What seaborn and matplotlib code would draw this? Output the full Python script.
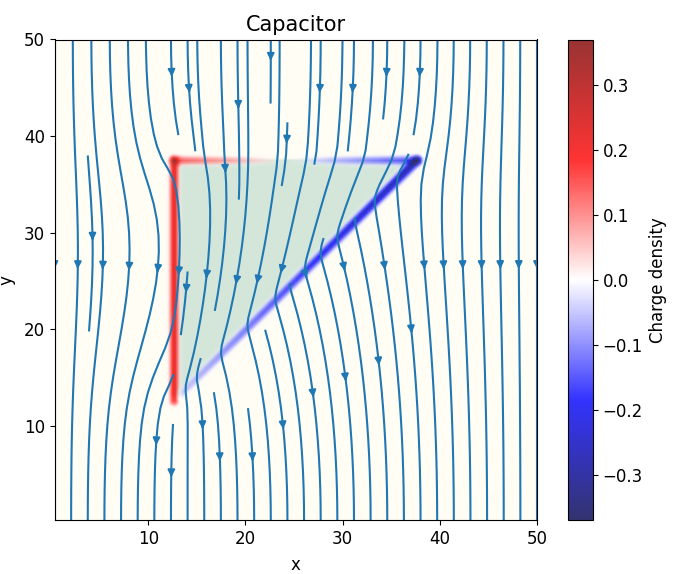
import numpy as np
import matplotlib
matplotlib.use("Agg")
import matplotlib.pyplot as plt
import seaborn as sns
from matplotlib.colors import LinearSegmentedColormap, ListedColormap, Normalize
from matplotlib.cm import ScalarMappable
from matplotlib.path import Path

# ---------------- data ----------------
tri_x = [12.5, 12.5, 37.5]          # triangle (dielectric) vertices
tri_y = [12.5, 37.5, 37.5]
# charged edges: start vertex index, end vertex index, charge density at start / end
edge_start = [0, 1, 2]               # left edge, top edge, hypotenuse
edge_end = [1, 2, 0]
charge_start = [0.22, 0.14, -0.30]
charge_end = [0.22, -0.16, -0.04]
charge_limit = 0.37                  # colour scale limit
plate_voltage = 50.0                 # top plate potential (bottom plate at 0)
eps_inside = 3.5                     # relative permittivity of the triangle
x_range = [0.35, 50.0]
y_range = [0.25, 50.0]

# ---------------- style ----------------
sns.set_style("ticks", {"axes.edgecolor": "black", "xtick.color": "black",
                        "ytick.color": "black", "text.color": "black",
                        "axes.labelcolor": "black"})
plt.rcParams["font.family"] = ["DejaVu Sans"]
plt.rcParams["font.size"] = 12
line_color = sns.color_palette("tab10")[0]

fig = plt.figure(figsize=(6.75, 5.74), dpi=100)
ax = fig.add_axes([54.5 / 675, 54 / 574, 482.5 / 675, 480.5 / 574])
cax = fig.add_axes([568 / 675, 54 / 574, 25 / 675, 480.5 / 574])

verts = np.column_stack([tri_x, tri_y])
tri_path = Path(verts)
extent = [x_range[0], x_range[1], y_range[0], y_range[1]]

# ---------------- background (dielectric region) ----------------
res = 0.25
gx = np.arange(x_range[0], x_range[1] + 1e-9, res)
gy = np.arange(y_range[0], y_range[1] + 1e-9, res)
GX, GY = np.meshgrid(gx, gy)
inside = tri_path.contains_points(np.column_stack([GX.ravel(), GY.ravel()]))
inside = inside.reshape(GX.shape).astype(float)
bg_cmap = LinearSegmentedColormap.from_list("diel", ["#fffdf4", "#d3e6d9"])
ax.imshow(inside, origin="lower", extent=extent, cmap=bg_cmap, vmin=0, vmax=1,
          interpolation="bilinear", aspect="auto", zorder=0)

# ---------------- charge density image ----------------
rho = np.zeros_like(GX)
width = 0.3
for i in range(len(edge_start)):
    p0 = verts[edge_start[i]]
    p1 = verts[edge_end[i]]
    d = p1 - p0
    L2 = d @ d
    t = np.clip(((GX - p0[0]) * d[0] + (GY - p0[1]) * d[1]) / L2, 0, 1)
    dist2 = (GX - (p0[0] + t * d[0])) ** 2 + (GY - (p0[1] + t * d[1])) ** 2
    rho += (charge_start[i] + t * (charge_end[i] - charge_start[i])) * np.exp(-dist2 / (2 * width ** 2))

norm = Normalize(vmin=-charge_limit, vmax=charge_limit)
alpha = 0.8 * np.clip(np.abs(rho) / 0.04, 0, 1)
ax.imshow(rho, origin="lower", extent=extent, cmap="seismic", norm=norm,
          alpha=alpha, interpolation="bilinear", aspect="auto", zorder=1)

# ---------------- electric field: parallel plates, div(eps grad phi) = 0 ----------------
n = 100
sx = np.linspace(x_range[0], x_range[1], n)
sy = np.linspace(y_range[0], y_range[1], n)
SX, SY = np.meshgrid(sx, sy)
eps = np.where(tri_path.contains_points(np.column_stack([SX.ravel(), SY.ravel()])).reshape(SX.shape),
               eps_inside, 1.0)
phi = plate_voltage * (SY - y_range[0]) / (y_range[1] - y_range[0])
aE = 0.5 * (eps[1:-1, 1:-1] + eps[1:-1, 2:])
aW = 0.5 * (eps[1:-1, 1:-1] + eps[1:-1, :-2])
aN = 0.5 * (eps[1:-1, 1:-1] + eps[2:, 1:-1])
aS = 0.5 * (eps[1:-1, 1:-1] + eps[:-2, 1:-1])
aT = aE + aW + aN + aS
ii, jj = np.meshgrid(np.arange(n - 2), np.arange(n - 2), indexing="ij")
checker = (ii + jj) % 2
omega = 1.9
inner = phi[1:-1, 1:-1]
for _ in range(2000):
    for c in (0, 1):
        new = (aE * phi[1:-1, 2:] + aW * phi[1:-1, :-2] + aN * phi[2:, 1:-1] + aS * phi[:-2, 1:-1]) / aT
        m = checker == c
        inner[m] += omega * (new[m] - inner[m])
        phi[1:-1, 0] = phi[1:-1, 1]      # insulating side walls
        phi[1:-1, -1] = phi[1:-1, -2]
gphi_y, gphi_x = np.gradient(phi, sy, sx)
Ex, Ey = -gphi_x, -gphi_y

ax.streamplot(sx, sy, Ex, Ey, color=line_color, density=1, linewidth=1.5, zorder=2)

ax.set_xlim(*x_range)
ax.set_ylim(*y_range)
ax.set_xticks([10, 20, 30, 40, 50])
ax.set_yticks([10, 20, 30, 40, 50])
ax.set_title("Capacitor", fontsize=15)
ax.set_xlabel("x", labelpad=6)
ax.set_ylabel("y")
ax.yaxis.set_label_coords(-0.08, 0.5)

cmap_alpha = plt.get_cmap("seismic")(np.linspace(0, 1, 256))
cmap_alpha[:, 3] = 0.8
sm = ScalarMappable(norm=norm, cmap=ListedColormap(cmap_alpha))
cb = fig.colorbar(sm, cax=cax)
cb.set_label("Charge density")

fig.savefig("out.png", dpi=100)
